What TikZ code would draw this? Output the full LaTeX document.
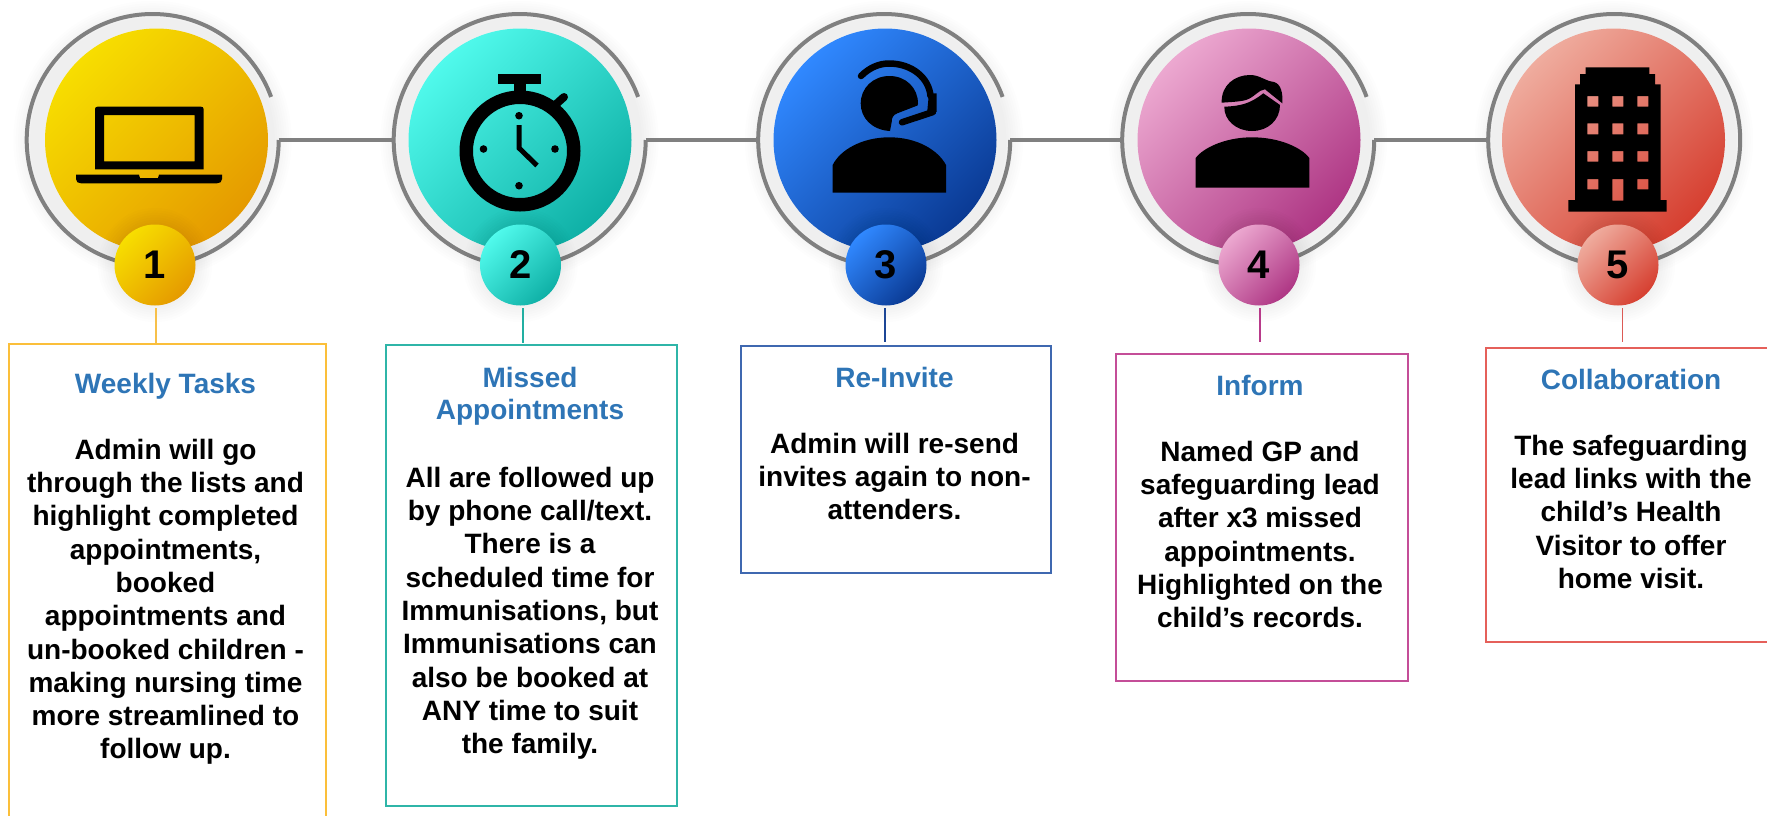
\documentclass[tikz,border=0pt]{standalone}
\usepackage{fontspec}
\setmainfont{Liberation Sans}
\definecolor{ringgray}{HTML}{808080}
\definecolor{titleblue}{HTML}{2E75B6}
\definecolor{yA}{HTML}{F7DE00}\definecolor{yB}{HTML}{E59A00}
\definecolor{tA}{HTML}{50FAEC}\definecolor{tB}{HTML}{0FB0A6}
\definecolor{bA}{HTML}{3088FF}\definecolor{bB}{HTML}{0A3A94}
\definecolor{pA}{HTML}{ECA8D0}\definecolor{pB}{HTML}{AE3684}
\definecolor{rA}{HTML}{EFAC9E}\definecolor{rB}{HTML}{D63F30}
\definecolor{boxY}{HTML}{FBBF3A}\definecolor{boxT}{HTML}{2FB5A8}
\definecolor{boxB}{HTML}{3F68B0}\definecolor{boxP}{HTML}{C44E98}
\definecolor{boxR}{HTML}{E5605A}
\definecolor{conY}{HTML}{F7C04A}\definecolor{conT}{HTML}{22AFA2}
\definecolor{conB}{HTML}{1C4696}\definecolor{conP}{HTML}{B83A8A}
\definecolor{conR}{HTML}{DC5A55}
\tikzset{
  x=1pt, y=-1pt,
  ringline/.style={draw=ringgray, line width=4pt},
  anchorring/.style={circle, minimum size=252pt, inner sep=0pt},
  bigdisc/.style 2 args={circle, minimum size=223pt, inner sep=0pt, top color=#1, bottom color=#2, shading angle=45},
  smalldisc/.style 2 args={circle, minimum size=81pt, inner sep=0pt, top color=#1, bottom color=#2, shading angle=45,
     font=\bfseries\fontsize{40}{40}\selectfont, text=black},
  boxframe/.style={rectangle, draw=#1, line width=2pt, inner sep=0pt, anchor=north west},
  conn/.style={draw=#1, line width=1.6pt},
  titletext/.style={anchor=north, inner sep=0pt, align=center, text=titleblue, font=\bfseries\fontsize{28}{32}\selectfont},
  bodytext/.style={anchor=north, inner sep=0pt, align=center, text=black, font=\bfseries\fontsize{28}{33.3}\selectfont},
  icon/.style={fill=black, draw=none},
}
\newcommand{\softhalo}[3]{%
  \foreach \k in {1,...,8}{\fill[black, fill opacity=.007] (#1,#2) circle ({#3+\k*2.4});}}
\newcommand{\firstline}{\rule{0pt}{22pt}}
\begin{document}
\begin{tikzpicture}
\useasboundingbox (0,0) rectangle (1767,815);
\clip (0,0) rectangle (1767,815);

% soft shadows round the rings
\softhalo{152.5}{140}{120}
\softhalo{519.5}{140}{120}
\softhalo{884}{140}{120}
\softhalo{1248}{140}{120}
\softhalo{1614}{140}{120}

% ring anchors
\node[anchorring] (R1) at (152.5,140) {};
\node[anchorring] (R2) at (519.5,140) {};
\node[anchorring] (R3) at (884,140) {};
\node[anchorring] (R4) at (1248,140) {};
\node[anchorring] (R5) at (1614,140) {};

% rings and joining lines
\draw[ringline] (R1.east) arc (0:340:126);
\draw[ringline] (R2.east) arc (0:340:126);
\draw[ringline] (R3.east) arc (0:340:126);
\draw[ringline] (R4.east) arc (0:340:126);
\draw[ringline] (R5.east) arc (0:360:126);
\draw[ringline] (R1.east) -- (R2.west);
\draw[ringline] (R2.east) -- (R3.west);
\draw[ringline] (R3.east) -- (R4.west);
\draw[ringline] (R4.east) -- (R5.west);

% big discs
\node[bigdisc={yA}{yB}] (D1) at (156.5,140) {};
\node[bigdisc={tA}{tB}] (D2) at (520,140) {};
\node[bigdisc={bA}{bB}] (D3) at (885,140) {};
\node[bigdisc={pA}{pB}] (D4) at (1249,140) {};
\node[bigdisc={rA}{rB}] (D5) at (1613.5,140) {};

% soft shadows of the number discs
\softhalo{155}{265}{38}
\softhalo{520.5}{265}{38}
\softhalo{886}{265}{38}
\softhalo{1259}{265}{38}
\softhalo{1618}{265}{38}

% number discs
\node[smalldisc={yA}{yB}] (S1) at (155,265) {1};
\node[smalldisc={tA}{tB}] (S2) at (520.5,265) {2};
\node[smalldisc={bA}{bB}] (S3) at (886,265) {3};
\node[smalldisc={pA}{pB}] (S4) at (1259,265) {4};
\node[smalldisc={rA}{rB}] (S5) at (1618,265) {5};

% boxes
\node[boxframe=boxY, minimum width=316.5pt, minimum height=520pt] (B1) at (8,342.5) {};
\node[boxframe=boxT, minimum width=291.5pt, minimum height=461.5pt] (B2) at (384.5,343.5) {};
\node[boxframe=boxB, minimum width=310.5pt, minimum height=226.5pt] (B3) at (739.5,345) {};
\node[boxframe=boxP, minimum width=292pt, minimum height=326.5pt] (B4) at (1114.5,353) {};
\node[boxframe=boxR, minimum width=320pt, minimum height=294pt] (B5) at (1485,346.5) {};

% connectors from number discs to boxes
\coordinate (C1a) at (156,308); \coordinate (C1b) at (156,343);
\coordinate (C2a) at (523,308); \coordinate (C2b) at (523,343);
\coordinate (C3a) at (885,308); \coordinate (C3b) at (885,342);
\coordinate (C4a) at (1260,308); \coordinate (C4b) at (1260,342);
\coordinate (C5a) at (1622.5,308); \coordinate (C5b) at (1622.5,342);
\draw[conn=conY] (C1a) -- (C1b);
\draw[conn=conT] (C2a) -- (C2b);
\draw[conn=conB] (C3a) -- (C3b);
\draw[conn=conP] (C4a) -- (C4b);
\draw[conn=conR] (C5a) -- (C5b);

% texts
\node[titletext] (T1) at (165.5,371) {\firstline Weekly Tasks};
\node[bodytext] (X1) at (165.5,437) {\firstline Admin will go\\through the lists and\\highlight completed\\appointments,\\booked\\appointments and\\un-booked children -\\making nursing time\\more streamlined to\\follow up.};
\node[titletext] (T2) at (530,365) {\firstline Missed\\Appointments};
\node[bodytext] (X2) at (530,465) {\firstline All are followed up\\by phone call/text.\\There is a\\scheduled time for\\Immunisations, but\\Immunisations can\\also be booked at\\ANY time to suit\\the family.};
\node[titletext] (T3) at (894.5,365) {\firstline Re-Invite};
\node[bodytext] (X3) at (894.5,431) {\firstline Admin will re-send\\invites again to non-\\attenders.};
\node[titletext] (T4) at (1260,373) {\firstline Inform};
\node[bodytext] (X4) at (1260,439) {\firstline Named GP and\\safeguarding lead\\after x3 missed\\appointments.\\Highlighted on the\\child’s records.};
\node[titletext] (T5) at (1631,367) {\firstline Collaboration};
\node[bodytext] (X5) at (1631,433) {\firstline The safeguarding\\lead links with the\\child’s Health\\Visitor to offer\\home visit.};

% laptop
\fill[icon, even odd rule] (95,169.3) -- (95,109) .. controls (95,107.5) and (96,106.7) .. (97.5,106.7) -- (201,106.7) .. controls (202.6,106.7) and (203.6,107.5) .. (203.6,109) -- (203.6,169.3) -- cycle
   (104,161.3) -- (104,115) -- (194.6,115) -- (194.6,161.3) -- cycle;
\fill[icon] (76,174.7) -- (139,174.7) -- (140,178) -- (158,178) -- (159,174.7) -- (222,174.7) -- (222,179)
   .. controls (222,182) and (220,183.3) .. (217,183.3) -- (81,183.3) .. controls (78,183.3) and (76,182) .. (76,179) -- cycle;

% stopwatch
\fill[icon, even odd rule] (520,151) circle (60.5) (520,151) circle (47);
\fill[icon] (498,74) rectangle (541,84);
\fill[icon] (513.5,84) rectangle (526,96);
\draw[line width=8pt, line cap=round] (554,106) -- (564,97);
\fill[icon] (519,115.7) circle (3.8);
\fill[icon] (519,185.7) circle (3.8);
\fill[icon] (483.5,149) circle (3.8);
\fill[icon] (555,149) circle (3.8);
\draw[line width=5pt] (519,125) -- (519,148) -- (537,165.5);

% headset agent
\fill[icon] (832.7,192.7) -- (832.7,165) .. controls (840,150) and (862,137.3) .. (889.3,137.3)
   .. controls (917,137.3) and (938,150) .. (946,165) -- (946,192.7) -- cycle;
\fill[icon] (890,131) .. controls (872,130) and (860.7,118) .. (860.7,103.5)
   .. controls (860.7,88) and (873,76) .. (889.5,76)
   .. controls (906,76) and (918,88) .. (918,103.5) .. controls (918,104) and (918,105) .. (917.5,105.5)
   -- (897.3,113.3) .. controls (893,115) and (891.7,118) .. (891.7,122) -- cycle;
\draw[line width=6.5pt, line cap=round] (861,76) .. controls (870,67) and (880,63.5) .. (889,63.5)
   .. controls (912,63.5) and (929,78) .. (930.5,96);
\fill[icon] (929,93) -- (936.7,93.5) -- (936.7,111.7) -- (927,114) -- cycle;
\draw[line width=6.5pt, line cap=round] (933,112) -- (902,122.3);

% person
\fill[icon] (1195.7,187.7) -- (1195.7,158) .. controls (1203,148) and (1225,137.3) .. (1252,137.3)
   .. controls (1280,137.3) and (1302,148) .. (1309.3,158) -- (1309.3,187.7) -- cycle;
\fill[icon] (1221.7,102.7) .. controls (1221,85) and (1235,75) .. (1250,75)
   .. controls (1260,75) and (1265,81) .. (1274,82) .. controls (1281,84) and (1283,93) .. (1282.3,103.3)
   -- (1265,89.3) .. controls (1258,90) and (1255,97) .. (1246,100) .. controls (1238,102) and (1230,102) .. (1221.7,102.7) -- cycle;
\fill[icon] (1224.3,106.7) .. controls (1240,106) and (1250,104) .. (1263.3,93.3) -- (1280,105)
   .. controls (1280,120) and (1268,131) .. (1252,131) .. controls (1236,131) and (1224,120) .. (1224.3,106.7) -- cycle;

% building
\fill[icon, even odd rule] (1568.3,211.7) -- (1568.3,200) -- (1575,200) -- (1575,84.3) -- (1580,84.3) -- (1580,74) -- (1585.7,74)
   -- (1585.7,67.3) -- (1649.3,67.3) -- (1649.3,74) -- (1655,74) -- (1655,84.3) -- (1660.7,84.3) -- (1660.7,200) -- (1666.7,200) -- (1666.7,211.7) -- cycle
   (1587.3,96) rectangle (1598.3,106.7) (1612.3,96) rectangle (1623.3,106.7) (1637.3,96) rectangle (1648.3,106.7)
   (1587.3,123.3) rectangle (1598.3,134.3) (1612.3,123.3) rectangle (1623.3,134.3) (1637.3,123.3) rectangle (1648.3,134.3)
   (1587.3,151) rectangle (1598.3,161.7) (1612.3,151) rectangle (1623.3,161.7) (1637.3,151) rectangle (1648.3,161.7)
   (1587.3,179) rectangle (1598.3,189.3) (1612.3,179) rectangle (1623.3,200.7) (1637.3,179) rectangle (1648.3,189.3);
\end{tikzpicture}
\end{document}
